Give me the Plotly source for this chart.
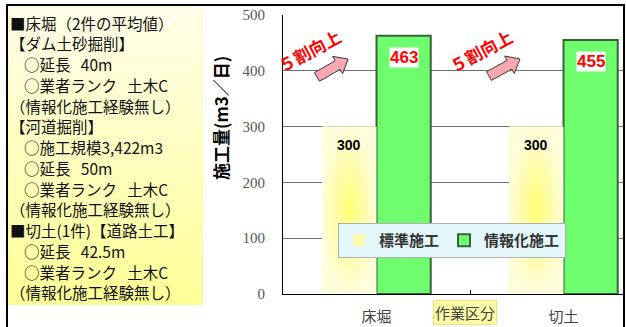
import plotly.graph_objects as go

# ---------------- data ----------------
categories = ["床堀", "切土"]
series_names = ["標準施工", "情報化施工"]
standard_values = [300, 300]
info_values = [463, 455]
improve_label = "５割向上"
y_ticks = [0, 100, 200, 300, 400, 500]
x_title = "作業区分"
y_title = "施工量(m3／日)"
IND = "\u00a0" * 4
GAP = "\u00a0" * 3
note_lines = [
    "■床堀（2件の平均値）",
    "【ダム土砂掘削】",
    IND + "○延長" + GAP + "40m",
    IND + "○業者ランク" + GAP + "土木C",
    "（情報化施工経験無し）",
    "【河道掘削】",
    IND + "○施工規模3,422m3",
    IND + "○延長" + GAP + "50m",
    IND + "○業者ランク" + GAP + "土木C",
    "（情報化施工経験無し）",
    "■切土(1件)【道路土工】",
    IND + "○延長" + GAP + "42.5m",
    IND + "○業者ランク" + GAP + "土木C",
    "（情報化施工経験無し）",
]

# ---------------- layout helpers ----------------
W, H = 626, 327
def px(x):
    return x / W
def py(y):
    return 1 - y / H

PL, PR, PT, PB = 283, 624, 15, 294   # plot area in pixels
CAT_W = 187                          # pixels per category
x_lo = -0.5
x_hi = x_lo + (PR - PL) / CAT_W
BARGAP = 0.42
bar_w = (1 - BARGAP) / 2

JP = "Noto Sans CJK JP"
xpos = list(range(len(categories)))

fig = go.Figure()

# text box background (gradient) on its own hidden axes
fig.add_trace(go.Scatter(
    x=[0, 1, 1, 0, 0], y=[0, 0, 1, 1, 0], xaxis="x2", yaxis="y2",
    mode="lines", line=dict(width=0.6, color="#f3eba0"), fill="toself",
    fillgradient=dict(type="vertical", start=0, stop=1,
                      colorscale=[[0, "#ffff96"], [1, "#fffde8"]]),
    showlegend=False, hoverinfo="skip"))

fig.add_trace(go.Bar(
    x=xpos, y=standard_values, name=series_names[0],
    marker=dict(color="#fbf9b0", line=dict(width=0)),
    hoverinfo="skip"))
fig.add_trace(go.Bar(
    x=xpos, y=info_values, name=series_names[1],
    marker=dict(color="#6dfd6d", line=dict(color="#3a623a", width=2)),
    hoverinfo="skip"))

# radial gradient overlay on the standard bars
for i, v in zip(xpos, standard_values):
    x0, x1 = i - bar_w, i
    fig.add_trace(go.Scatter(
        x=[x0, x1, x1, x0, x0], y=[0, 0, v, v, 0],
        mode="lines", line=dict(width=0), fill="toself",
        fillgradient=dict(type="radial",
                          colorscale=[[0, "#ffff72"], [0.5, "#fffca8"],
                                      [1, "#fffdda"]]),
        showlegend=False, hoverinfo="skip"))

annotations = []
# value labels
for i, v in zip(xpos, standard_values):
    annotations.append(dict(
        x=i - bar_w / 2, y=v, xref="x", yref="y", text=f"<b>{v}</b>",
        showarrow=False, yanchor="top", yshift=-8,
        font=dict(family="Liberation Sans", size=14, color="#000")))
for i, v in zip(xpos, info_values):
    annotations.append(dict(
        x=i + bar_w / 2, y=v, xref="x", yref="y", text=f"<b>{v}</b>",
        showarrow=False, yanchor="top", yshift=-11,
        bgcolor="#ffffff", borderpad=0,
        font=dict(family="Liberation Sans", size=17, color="#ff0000")))

# improvement labels and arrows (pixel placement of decorative callouts)
callouts = [
    dict(text_c=(309, 50), tail=(317, 77), tip=(348, 59)),
    dict(text_c=(481, 51), tail=(489, 76), tip=(520, 59)),
]
shapes = []
for c in callouts:
    annotations.append(dict(
        x=px(c["text_c"][0]), y=py(c["text_c"][1]), xref="paper", yref="paper",
        xanchor="center", yanchor="middle",
        text=f"<b>{improve_label}</b>", showarrow=False, textangle=-28,
        font=dict(family=JP, size=17, color="#ff0000")))
    (tx, ty), (hx, hy) = c["tail"], c["tip"]
    L = ((hx - tx) ** 2 + (hy - ty) ** 2) ** 0.5
    ux, uy = (hx - tx) / L, (hy - ty) / L
    nx, ny = -uy, ux
    w1, w2, hl = 5, 10, 12
    bx, by = hx - ux * hl, hy - uy * hl
    pts = [
        (tx + nx * w1, ty + ny * w1), (bx + nx * w1, by + ny * w1),
        (bx + nx * w2, by + ny * w2), (hx, hy),
        (bx - nx * w2, by - ny * w2), (bx - nx * w1, by - ny * w1),
        (tx - nx * w1, ty - ny * w1),
    ]
    path = "M " + " L ".join(f"{px(a):.5f},{py(b):.5f}" for a, b in pts) + " Z"
    shapes.append(dict(type="path", path=path, xref="paper", yref="paper",
                       fillcolor="#f8a8b0", line=dict(color="#3a3a3a", width=1),
                       layer="above"))

# y axis title
annotations.append(dict(
    x=px(220), y=py(118), xref="paper", yref="paper", text=f"<b>{y_title}</b>",
    xanchor="center", yanchor="middle",
    showarrow=False, textangle=-90,
    font=dict(family=JP, size=17, color="#000")))
# x axis title box
annotations.append(dict(
    x=px(465), y=py(312), xref="paper", yref="paper", text=x_title,
    xanchor="center", yanchor="middle",
    showarrow=False, bgcolor="#fdfba6", bordercolor="#efe080", borderwidth=1,
    borderpad=1, font=dict(family=JP, size=15, color="#444")))
# note text box, one line per annotation
LINE0, LINE_STEP = 22.5, 20.75
for k, line in enumerate(note_lines):
    annotations.append(dict(
        x=px(9), y=py(LINE0 + k * LINE_STEP), xref="paper", yref="paper",
        xanchor="left", yanchor="middle", align="left", text=line,
        showarrow=False, borderpad=0,
        font=dict(family=JP, size=15.5, color="#111")))

# outer frame
for (x0, y0, x1, y1) in [(6, 5, 625, 5), (7, 5, 7, 327), (624, 5, 624, 327)]:
    shapes.append(dict(type="line", xref="paper", yref="paper",
                       x0=px(x0), y0=py(y0), x1=px(x1), y1=py(y1),
                       line=dict(color="#000", width=2), layer="above"))

fig.update_layout(
    width=W, height=H, margin=dict(l=0, r=0, t=0, b=0, autoexpand=False),
    paper_bgcolor="#ffffff", plot_bgcolor="#ffffff",
    barmode="group", bargap=BARGAP, bargroupgap=0,
    xaxis=dict(domain=[px(PL), px(PR)], range=[x_lo, x_hi], automargin=False,
               tickvals=xpos, ticktext=categories, ticks="",
               ticklabelstandoff=9,
               tickfont=dict(family=JP, size=15, color="#444"),
               showline=True, linecolor="#000", linewidth=1,
               showgrid=False, zeroline=False,
               minor=dict(tickvals=[0.5], ticks="inside", ticklen=4,
                          tickcolor="#000", showgrid=False)),
    yaxis=dict(domain=[py(PB), py(PT)], range=[0, 500], tickvals=y_ticks,
               automargin=False, ticks="", ticklabelstandoff=14,
               tickfont=dict(family="Liberation Serif", size=15, color="#555"),
               showline=True, linecolor="#000", linewidth=1,
               gridcolor="#6e6e6e", gridwidth=1, zeroline=False),
    xaxis2=dict(domain=[px(8), px(203)], range=[0, 1], visible=False,
                anchor="y2", fixedrange=True, automargin=False),
    yaxis2=dict(domain=[py(305), py(7)], range=[0, 1], visible=False,
                anchor="x2", fixedrange=True, automargin=False),
    legend=dict(orientation="h", x=px(338), y=py(223), xanchor="left",
                yanchor="top", bgcolor="#e4f7fb", bordercolor="#b0b0b0",
                borderwidth=1, itemwidth=30,
                font=dict(family=JP, size=15, color="#333", weight="bold")),
    annotations=annotations, shapes=shapes,
)

fig.write_html("out.html")
